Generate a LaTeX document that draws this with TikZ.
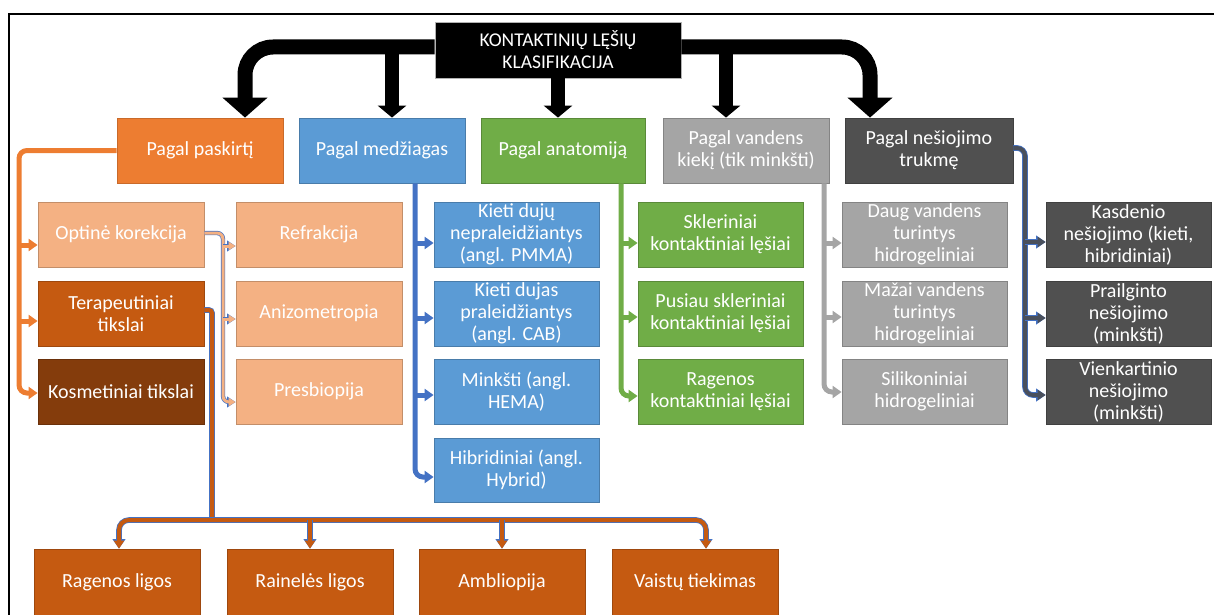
\documentclass[tikz,border=0pt]{standalone}
\usepackage{fontspec}
\setmainfont{Carlito}
\usetikzlibrary{arrows.meta}
\definecolor{cOrange}{HTML}{ED7D31}
\definecolor{cBlue}{HTML}{5B9BD5}
\definecolor{cGreen}{HTML}{70AD47}
\definecolor{cGray}{HTML}{A5A5A5}
\definecolor{cDark}{HTML}{505050}
\definecolor{cLight}{HTML}{F4B183}
\definecolor{cTer}{HTML}{C55A11}
\definecolor{cKos}{HTML}{843C0C}
\definecolor{cLine}{HTML}{4472C4}
\definecolor{cSlate}{HTML}{4A505C}
\begin{document}
\begin{tikzpicture}[x=1pt,y=-1pt,
  box/.style={rectangle, minimum width=166pt, minimum height=65pt, inner sep=1pt,
    align=center, text=white, line width=0.8pt, font=\fontsize{20}{22}\selectfont},
  bigcurve/.style={draw=black, line width=15pt, -{Triangle[width=44pt,length=20pt]}},
  bigstraight/.style={draw=black, line width=14pt, -{Triangle[width=28pt,length=12pt]}},
  ocon/.style={draw=cOrange, line width=5pt, -{Triangle[width=12pt,length=9pt]}},
  bcon/.style={draw=cLine, line width=5pt, -{Triangle[width=12pt,length=9pt]}},
  gcon/.style={draw=cGreen, line width=5pt, -{Triangle[width=12pt,length=9pt]}},
  grcon/.style={draw=cGray, line width=5pt, -{Triangle[width=12pt,length=9pt]}},
  dcon/.style={draw=cSlate, line width=4pt, -{Triangle[width=10pt,length=8pt]},
    preaction={draw=cLine, line width=5.6pt, -{Triangle[width=12.5pt,length=9.5pt]}}},
  lcon/.style={draw=cLight, line width=3pt, -{Triangle[width=8pt,length=7pt]},
    preaction={draw=cLine, line width=4.4pt, -{Triangle[width=10.5pt,length=8.5pt]}}},
  tcon/.style={draw=cTer, line width=4pt, -{Triangle[width=10pt,length=8pt]},
    preaction={draw=cLine, line width=5.6pt, -{Triangle[width=12.5pt,length=9.5pt]}}},
  tline/.style={draw=cTer, line width=4pt, preaction={draw=cLine, line width=5.6pt}}
]
\useasboundingbox (0,0) rectangle (1214,615);
% frame
\draw[line width=2.5pt] (9,615) -- (9,14) -- (1214,14);

% nodes
\node[box, fill=black, draw=gray!60, minimum width=246pt, minimum height=56pt,
  font=\fontsize{19.5}{22}\selectfont] (title) at (558,50) {KONTAKTINIŲ LĘŠIŲ\\KLASIFIKACIJA};

\node[box, fill=cOrange, draw=cOrange!85!black] (pas) at (200,150.5) {Pagal paskirtį};
\node[box, fill=cBlue, draw=cBlue!80!black] (med) at (382,150.5) {Pagal medžiagas};
\node[box, fill=cGreen, draw=cGreen!80!black, minimum width=164pt] (ana) at (563,150.5) {Pagal anatomiją};
\node[box, fill=cGray, draw=cGray!80!black] (van) at (746,150.5) {Pagal vandens\\kiekį (tik minkšti)};
\node[box, fill=cDark, draw=cDark!80!black, minimum width=168pt] (nes) at (929,150.5) {Pagal nešiojimo\\trukmę};

\node[box, fill=cLight, draw=cLight!80!black] (opt) at (121,234.5) {Optinė korekcija};
\node[box, fill=cTer, draw=cTer!80!black] (ter) at (121,313.5) {Terapeutiniai\\tikslai};
\node[box, fill=cKos, draw=cKos!80!black] (kos) at (121,391.5) {Kosmetiniai tikslai};

\node[box, fill=cLight, draw=cLight!80!black] (ref) at (319,234.5) {Refrakcija};
\node[box, fill=cLight, draw=cLight!80!black] (ani) at (319,313.5) {Anizometropia};
\node[box, fill=cLight, draw=cLight!80!black] (pre) at (319,391.5) {Presbiopija};

\node[box, fill=cBlue, draw=cBlue!80!black, minimum width=165pt] (kd1) at (516.5,234.5) {Kieti dujų\\nepraleidžiantys\\(angl. PMMA)};
\node[box, fill=cBlue, draw=cBlue!80!black, minimum width=165pt] (kd2) at (516.5,313.5) {Kieti dujas\\praleidžiantys\\(angl. CAB)};
\node[box, fill=cBlue, draw=cBlue!80!black, minimum width=165pt] (mink) at (516.5,391.5) {Minkšti (angl.\\HEMA)};
\node[box, fill=cBlue, draw=cBlue!80!black, minimum width=165pt, minimum height=64pt] (hib) at (516.5,470) {Hibridiniai (angl.\\Hybrid)};

\node[box, fill=cGreen, draw=cGreen!80!black, minimum width=165pt] (skl) at (720.5,234.5) {Skleriniai\\kontaktiniai lęšiai};
\node[box, fill=cGreen, draw=cGreen!80!black, minimum width=165pt] (pus) at (720.5,313.5) {Pusiau skleriniai\\kontaktiniai lęšiai};
\node[box, fill=cGreen, draw=cGreen!80!black, minimum width=165pt] (rgn) at (720.5,391.5) {Ragenos\\kontaktiniai lęšiai};

\node[box, fill=cGray, draw=cGray!80!black, minimum width=165pt] (daug) at (924.5,234.5) {Daug vandens\\turintys\\hidrogeliniai};
\node[box, fill=cGray, draw=cGray!80!black, minimum width=165pt] (maz) at (924.5,313.5) {Mažai vandens\\turintys\\hidrogeliniai};
\node[box, fill=cGray, draw=cGray!80!black, minimum width=165pt] (sil) at (924.5,391.5) {Silikoniniai\\hidrogeliniai};

\node[box, fill=cDark, draw=cDark!80!black, minimum width=165pt] (kas) at (1128.5,234.5) {Kasdenio\\nešiojimo (kieti,\\hibridiniai)};
\node[box, fill=cDark, draw=cDark!80!black, minimum width=165pt] (pra) at (1128.5,313.5) {Prailginto\\nešiojimo\\(minkšti)};
\node[box, fill=cDark, draw=cDark!80!black, minimum width=165pt] (vie) at (1128.5,391.5) {Vienkartinio\\nešiojimo\\(minkšti)};

\node[box, fill=cTer, draw=cTer!80!black, minimum height=66pt] (rag) at (117,582) {Ragenos ligos};
\node[box, fill=cTer, draw=cTer!80!black, minimum height=66pt] (rai) at (310,582) {Rainelės ligos};
\node[box, fill=cTer, draw=cTer!80!black, minimum height=66pt] (amb) at (502,582) {Ambliopija};
\node[box, fill=cTer, draw=cTer!80!black, minimum height=66pt] (vai) at (695,582) {Vaistų tiekimas};

% big black arrows
\coordinate (bar) at (558,47);
\draw[bigcurve, rounded corners=28pt] ([yshift=3pt]title.west) -| ([xshift=45pt]pas.north);
\draw[bigcurve, rounded corners=28pt] ([yshift=3pt]title.east) -| ([xshift=-59pt]nes.north);
\draw[bigstraight] ([xshift=10pt]med.north |- bar) -- ([xshift=10pt]med.north);
\draw[bigstraight] ([xshift=-5pt]ana.north |- title.south) -- ([xshift=-5pt]ana.north);
\draw[bigstraight] ([xshift=-20pt]van.north |- bar) -- ([xshift=-20pt]van.north);

% left orange bus
\coordinate (lb) at (19,0);
\draw[ocon, rounded corners=8pt] (pas.west) -| ([yshift=-1.5pt]kos.west -| lb) -- ([yshift=-1.5pt]kos.west);
\draw[ocon] ([yshift=-10.5pt]opt.west -| lb) -- ([yshift=-10.5pt]opt.west);
\draw[ocon] ([yshift=-7.5pt]ter.west -| lb) -- ([yshift=-7.5pt]ter.west);

% optical correction bus
\coordinate (ob) at (223,0);
\draw[lcon, rounded corners=6pt] ([yshift=1.5pt]opt.east) -| ([yshift=-10.5pt]pre.west -| ob) -- ([yshift=-10.5pt]pre.west);
\draw[lcon] ([yshift=-11.5pt]ref.west -| ob) -- ([yshift=-11.5pt]ref.west);
\draw[lcon] ([yshift=-5.5pt]ani.west -| ob) -- ([yshift=-5.5pt]ani.west);

% blue bus
\coordinate (bb) at (415,0);
\draw[bcon, rounded corners=8pt] (med.south -| bb) |- ([yshift=-7pt]hib.west);
\draw[bcon] ([yshift=-8.5pt]kd1.west -| bb) -- ([yshift=-8.5pt]kd1.west);
\draw[bcon] ([yshift=-4.5pt]kd2.west -| bb) -- ([yshift=-4.5pt]kd2.west);
\draw[bcon] ([yshift=-3.5pt]mink.west -| bb) -- ([yshift=-3.5pt]mink.west);

% green bus
\coordinate (gb) at (621,0);
\draw[gcon, rounded corners=8pt] (ana.south -| gb) |- ([yshift=-4.5pt]rgn.west);
\draw[gcon] ([yshift=-8.5pt]skl.west -| gb) -- ([yshift=-8.5pt]skl.west);
\draw[gcon] ([yshift=-3.5pt]pus.west -| gb) -- ([yshift=-3.5pt]pus.west);

% gray bus
\coordinate (grb) at (824,0);
\draw[grcon, rounded corners=8pt] (van.south -| grb) |- ([yshift=-0.5pt]sil.west);
\draw[grcon] ([yshift=-8.5pt]daug.west -| grb) -- ([yshift=-8.5pt]daug.west);
\draw[grcon] ([yshift=-3.5pt]maz.west -| grb) -- ([yshift=-3.5pt]maz.west);

% dark bus
\coordinate (db) at (1025,0);
\draw[dcon, rounded corners=8pt] ([yshift=2.5pt]nes.east) -| ([yshift=-3.5pt]vie.west -| db) -- ([yshift=-3.5pt]vie.west);
\draw[dcon] ([yshift=-7.5pt]kas.west -| db) -- ([yshift=-7.5pt]kas.west);
\draw[dcon] ([yshift=-4.5pt]pra.west -| db) -- ([yshift=-4.5pt]pra.west);

% therapeutic bus
\coordinate (tb) at (212,520);
\draw[tline, rounded corners=3pt] ([yshift=3.5pt]ter.east) -| (tb);
\draw[tcon, rounded corners=10pt] (tb) -| ([xshift=2pt]rag.north);
\draw[tcon, rounded corners=10pt] (tb) -| ([xshift=11pt]vai.north);
\draw[tcon] (tb -| rai.north) -- (rai.north);
\draw[tcon] (tb -| amb.north) -- (amb.north);
\end{tikzpicture}
\end{document}
